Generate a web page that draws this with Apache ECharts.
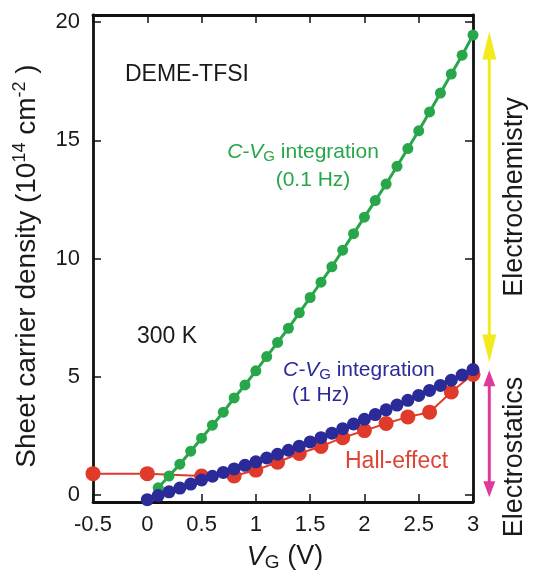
<!DOCTYPE html>
<html><head><meta charset="utf-8">
<script src="https://cdn.jsdelivr.net/npm/echarts@6/dist/echarts.min.js"></script>
<style>html,body{margin:0;padding:0;background:#fff}#c{width:533px;height:575px}</style>
</head><body><div id="c"></div>
<script>
// ---- data ----
const greenV = [0.1,0.2,0.3,0.4,0.5,0.6,0.7,0.8,0.9,1.0,1.1,1.2,1.3,1.4,1.5,1.6,1.7,1.8,1.9,2.0,2.1,2.2,2.3,2.4,2.5,2.6,2.7,2.8,2.9,3.0];
const greenN = [0.3,0.8,1.3,1.85,2.4,2.95,3.5,4.1,4.65,5.25,5.85,6.45,7.05,7.7,8.35,9.0,9.65,10.35,11.05,11.75,12.45,13.15,13.9,14.65,15.4,16.2,17.0,17.8,18.6,19.45];
const blueV = [0,0.1,0.2,0.3,0.4,0.5,0.6,0.7,0.8,0.9,1.0,1.1,1.2,1.3,1.4,1.5,1.6,1.7,1.8,1.9,2.0,2.1,2.2,2.3,2.4,2.5,2.6,2.7,2.8,2.9,3.0];
const blueN = [-0.2,-0.03,0.13,0.29,0.46,0.63,0.79,0.95,1.1,1.25,1.4,1.56,1.72,1.89,2.06,2.24,2.42,2.61,2.8,3.0,3.2,3.4,3.6,3.8,4.0,4.21,4.42,4.63,4.85,5.07,5.3];
const hallV = [-0.5,0,0.5,0.8,1.0,1.2,1.4,1.6,1.8,2.0,2.2,2.4,2.6,2.8,3.0];
const hallN = [0.9,0.9,0.8,0.8,1.05,1.38,1.75,2.05,2.42,2.72,3.02,3.3,3.5,4.35,5.1];
const xTicks = [-0.5,0,0.5,1,1.5,2,2.5,3];
const yTicks = [0,5,10,15,20];

const zip = (a,b) => a.map((v,i)=>[v,b[i]]);
const FONT = 'Liberation Sans, Arial, sans-serif';
const GREEN='#27a74a', BLUE='#2a2a98', RED='#e03a2a';

const chart = echarts.init(document.getElementById('c'), null, {renderer:'canvas'});
const axisLine = {show:true, onZero:false, lineStyle:{color:'#111', width:2.8}};
const tick = {show:true, inside:true, length:8, lineStyle:{color:'#111', width:1.5}};
const xBase = {type:'value', min:xTicks[0], max:xTicks[xTicks.length-1], interval:0.5, splitLine:{show:false}, axisLine, axisTick:tick};
const yBase = {type:'value', min:-0.3, max:20.3, splitLine:{show:false}, axisLine, axisTick:Object.assign({customValues:yTicks}, tick)};

chart.setOption({
  animation:false,
  grid:{left:93, right:60, top:15, bottom:73, containLabel:false},
  xAxis:[
    Object.assign({position:'bottom', axisLabel:{fontSize:22, color:'#1a1a1a', margin:12, fontFamily:FONT}}, xBase),
    Object.assign({position:'top', axisLabel:{show:false}}, xBase)
  ],
  yAxis:[
    Object.assign({position:'left', axisLabel:{customValues:yTicks, fontSize:22, color:'#1a1a1a', margin:13, fontFamily:FONT}}, yBase),
    Object.assign({position:'right', axisLabel:{show:false}}, yBase)
  ],
  series:[
    {type:'line', name:'Hall-effect', data:zip(hallV,hallN), symbol:'circle', symbolSize:15, clip:false, z:2,
      itemStyle:{color:RED}, lineStyle:{color:RED, width:2}},
    {type:'line', name:'0.1 Hz', data:zip(greenV,greenN), symbol:'circle', symbolSize:11, clip:false, z:3,
      itemStyle:{color:GREEN}, lineStyle:{color:GREEN, width:3}},
    {type:'line', name:'1 Hz', data:zip(blueV,blueN), symbol:'circle', symbolSize:13, clip:false, z:4,
      itemStyle:{color:BLUE}, lineStyle:{color:BLUE, width:3}}
  ]
});

function P(x,y){ return chart.convertToPixel({xAxisIndex:0, yAxisIndex:0},[x,y]); }
function dblArrow(x, y1, y2, color, headLen, headW){
  const a = P(x,y1), b = P(x,y2);
  const px = a[0], top = a[1], bot = b[1];
  return [
    {type:'line', shape:{x1:px, y1:top+headLen-2, x2:px, y2:bot-headLen+2}, style:{stroke:color, lineWidth:3}},
    {type:'polygon', shape:{points:[[px,top],[px-headW/2,top+headLen],[px+headW/2,top+headLen]]}, style:{fill:color}},
    {type:'polygon', shape:{points:[[px,bot],[px-headW/2,bot-headLen],[px+headW/2,bot-headLen]]}, style:{fill:color}}
  ];
}
const t = (text, x, y, opt) => Object.assign({type:'text', x, y, style:Object.assign({text, fontFamily:FONT, fontSize:22, fill:'#1a1a1a', align:'left', verticalAlign:'middle'}, opt||{})});
const richLbl = (color) => ({
  i:{fontStyle:'italic', fontSize:21, fill:color, fontFamily:FONT, lineHeight:24},
  n:{fontSize:21, fill:color, fontFamily:FONT, lineHeight:24},
  s:{fontSize:15, fill:color, fontFamily:FONT, lineHeight:15, verticalAlign:'bottom'}
});

const graphics = [].concat(
  dblArrow(3.15, 19.6, 5.6, '#f2ea1c', 28, 14),
  dblArrow(3.15, 5.27, -0.1, '#e0399c', 16, 12),
  [
    t('DEME-TFSI', 125, 75, {fontSize:23}),
    t('300 K', 137, 337, {fontSize:23}),
    {type:'text', x:303, y:152, style:{text:'{i|C-V}{s|G}{n| integration}', align:'center', verticalAlign:'middle', rich:richLbl(GREEN)}},
    {type:'text', x:313, y:180, style:{text:'{n|(0.1 Hz)}', align:'center', verticalAlign:'middle', rich:richLbl(GREEN)}},
    {type:'text', x:283, y:370, style:{text:'{i|C-V}{s|G}{n| integration}', align:'left', verticalAlign:'middle', rich:richLbl(BLUE)}},
    {type:'text', x:292, y:395, style:{text:'{n|(1 Hz)}', align:'left', verticalAlign:'middle', rich:richLbl(BLUE)}},
    t('Hall-effect', 345, 462, {fill:'#dd4433', fontSize:23}),
    {type:'text', x:27, y:266, rotation:Math.PI/2, style:{text:'{a|Sheet carrier density (10}{p|14}{a| cm}{p|-2}{a| )}', align:'center', verticalAlign:'middle',
      rich:{a:{fontSize:28, fontFamily:FONT, fill:'#1a1a1a', lineHeight:32}, p:{fontSize:18, fontFamily:FONT, fill:'#1a1a1a', lineHeight:17, verticalAlign:'top'}}}},
    {type:'text', x:285, y:557, style:{text:'{i|V}{s|G}{a| (V)}', align:'center', verticalAlign:'middle',
      rich:{i:{fontSize:27, fontStyle:'italic', fontFamily:FONT, fill:'#1a1a1a', lineHeight:30}, s:{fontSize:19, fontFamily:FONT, fill:'#1a1a1a', lineHeight:24, verticalAlign:'bottom'}, a:{fontSize:27, fontFamily:FONT, fill:'#1a1a1a', lineHeight:30}}}},
    {type:'text', x:515, y:197, rotation:Math.PI/2, style:{text:'Electrochemistry', fontFamily:FONT, fontSize:27, fill:'#1a1a1a', align:'center', verticalAlign:'middle'}},
    {type:'text', x:515, y:457, rotation:Math.PI/2, style:{text:'Electrostatics', fontFamily:FONT, fontSize:27, fill:'#1a1a1a', align:'center', verticalAlign:'middle'}}
  ]
);
chart.setOption({graphic:graphics});
</script></body></html>
